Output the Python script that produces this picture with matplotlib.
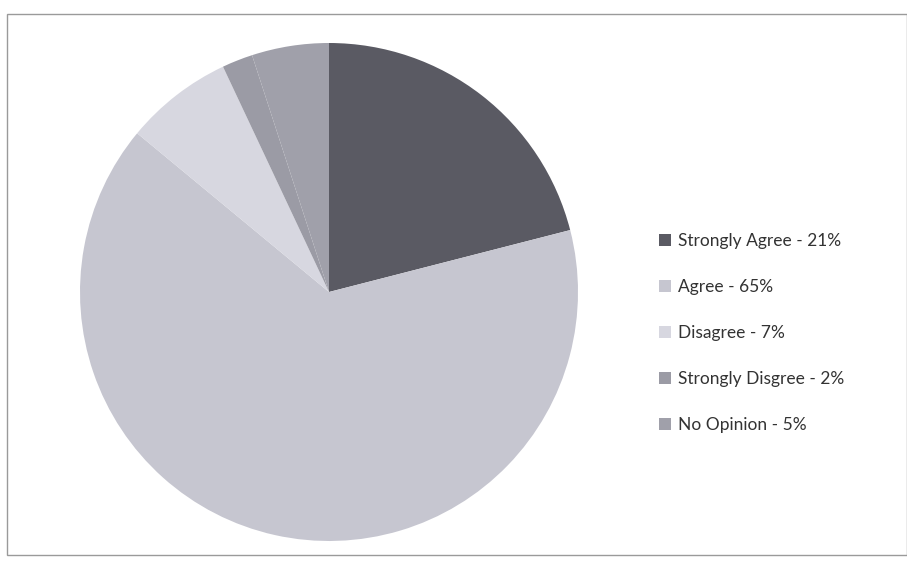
import matplotlib
matplotlib.use("Agg")
import matplotlib.pyplot as plt
from matplotlib.patches import Rectangle

labels = ["Strongly Agree - 21%", "Agree - 65%", "Disagree - 7%",
          "Strongly Disgree - 2%", "No Opinion - 5%"]
values = [21, 65, 7, 2, 5]
colors = ["#5a5a63", "#c6c6d0", "#d7d7e0", "#9b9ba5", "#a0a0aa"]

fig = plt.figure(figsize=(9.07, 5.67), dpi=100)
fig.patch.set_facecolor("white")

# chart frame
fig.add_artist(Rectangle((7/907, 1-555/567), 900/907, 541/567,
                         transform=fig.transFigure, fill=False,
                         edgecolor="#9a9a9a", linewidth=1.0))

ax = fig.add_axes([80/907, 1-(292+249)/567, 498/907, 498/567])
wedges, _ = ax.pie(values, colors=colors, startangle=90, counterclock=False,
                   radius=1.0, wedgeprops=dict(linewidth=0))
ax.set_xlim(-1, 1)
ax.set_ylim(-1, 1)
ax.set_aspect("equal")
ax.axis("off")

plt.rcParams["font.family"] = ["Lato", "DejaVu Sans"]
leg = fig.legend(wedges, labels, loc="upper left",
                 bbox_to_anchor=(650/907, 1-224/567),
                 frameon=False, fontsize=12.5, handlelength=0.7,
                 handleheight=0.7, handletextpad=0.4, labelspacing=1.73,
                 borderpad=0, labelcolor="#333333")

fig.savefig("out.png", dpi=100)
